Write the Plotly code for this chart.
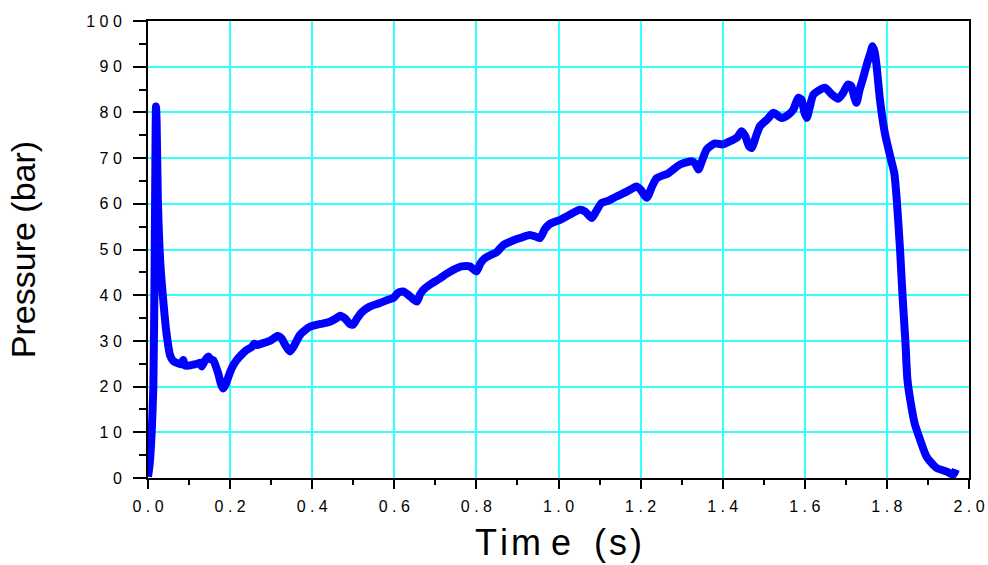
import plotly.graph_objects as go

# Pressure trace: time in seconds, pressure in bar
time_s = [
    0.000, 0.004, 0.009, 0.013, 0.016, 0.0185, 0.0195, 0.021, 0.024, 0.030,
    0.037, 0.045, 0.054, 0.062, 0.070, 0.080, 0.086, 0.090, 0.100, 0.110,
    0.120, 0.127, 0.131, 0.138, 0.147, 0.152, 0.159, 0.165, 0.171, 0.178,
    0.183, 0.189, 0.196, 0.205, 0.216, 0.228, 0.240, 0.252, 0.259, 0.265,
    0.280, 0.297, 0.307, 0.317, 0.325, 0.335, 0.346, 0.355, 0.370, 0.382,
    0.395, 0.420, 0.443, 0.458, 0.468, 0.480, 0.493, 0.500, 0.510, 0.520,
    0.540, 0.565, 0.585, 0.598, 0.610, 0.622, 0.632, 0.645, 0.655, 0.663,
    0.671, 0.690, 0.710, 0.728, 0.745, 0.764, 0.784, 0.800, 0.810, 0.821,
    0.835, 0.849, 0.866, 0.885, 0.906, 0.930, 0.945, 0.955, 0.967, 0.979,
    1.004, 1.025, 1.052, 1.065, 1.081, 1.092, 1.105, 1.120, 1.141, 1.165,
    1.190, 1.200, 1.215, 1.228, 1.239, 1.268, 1.296, 1.325, 1.333, 1.341,
    1.350, 1.361, 1.381, 1.400, 1.418, 1.435, 1.446, 1.455, 1.464, 1.471,
    1.480, 1.491, 1.510, 1.523, 1.544, 1.560, 1.572, 1.584, 1.592, 1.599,
    1.605, 1.613, 1.621, 1.649, 1.665, 1.681, 1.693, 1.705, 1.713, 1.720,
    1.726, 1.733, 1.741, 1.752, 1.760, 1.765, 1.770, 1.775, 1.783, 1.795,
    1.808, 1.818, 1.824, 1.832, 1.838, 1.845, 1.850, 1.858, 1.868, 1.880,
    1.897, 1.921, 1.946, 1.961, 1.965, 1.968,
]
pressure_bar = [
    0.3, 3.0, 10.0, 20.0, 45.0, 75.0, 81.3, 78.0, 61.0, 47.0,
    39.0, 31.7, 26.8, 25.6, 25.2, 24.9, 25.8, 24.6, 24.6, 24.8,
    25.0, 25.2, 24.4, 25.6, 26.6, 26.0, 25.8, 24.5, 22.9, 20.5,
    19.6, 20.4, 22.2, 24.2, 25.8, 27.0, 28.0, 28.6, 29.4, 29.1,
    29.5, 30.0, 30.6, 31.1, 30.6, 29.0, 27.7, 28.8, 31.3, 32.3,
    33.1, 33.7, 34.2, 34.9, 35.5, 34.9, 33.6, 33.6, 35.0, 36.2,
    37.5, 38.3, 39.0, 39.4, 40.6, 40.8, 40.2, 39.2, 38.6, 40.2,
    41.2, 42.5, 43.6, 44.7, 45.6, 46.3, 46.3, 45.2, 47.0, 48.1,
    48.8, 49.4, 51.0, 51.8, 52.5, 53.2, 52.8, 52.5, 54.5, 55.6,
    56.5, 57.5, 58.7, 58.3, 56.9, 58.4, 60.2, 60.6, 61.6, 62.6,
    63.8, 63.1, 61.3, 63.8, 65.6, 66.7, 68.6, 69.3, 68.8, 67.5,
    69.5, 71.9, 73.2, 73.0, 73.7, 74.5, 75.9, 74.8, 72.6, 72.2,
    74.5, 77.0, 78.6, 79.9, 78.8, 79.5, 80.6, 83.2, 82.8, 80.0,
    78.8, 81.5, 83.9, 85.4, 84.0, 83.0, 84.2, 86.1, 85.8, 83.5,
    82.1, 84.8, 87.2, 90.8, 93.0, 94.5, 93.3, 90.1, 82.8, 75.5,
    70.4, 66.7, 60.9, 50.0, 40.0, 30.0, 21.5, 16.5, 11.8, 8.6,
    4.6, 2.2, 1.4, 0.7, 1.2, 1.9,
]

x_ticks = [0.0, 0.2, 0.4, 0.6, 0.8, 1.0, 1.2, 1.4, 1.6, 1.8, 2.0]
y_ticks = [0, 10, 20, 30, 40, 50, 60, 70, 80, 90, 100]


def spaced(s):
    return " ".join(s)


x_labels = [spaced(f"{v:.1f}") for v in x_ticks]
y_labels = [spaced(str(v)) for v in y_ticks]

FONT = "Liberation Sans, Arial, sans-serif"
GRID = "#33ffff"

fig = go.Figure(
    go.Scatter(
        x=time_s,
        y=pressure_bar,
        mode="lines",
        line=dict(color="#0000ff", width=8, shape="spline", smoothing=0.6),
        hoverinfo="skip",
    )
)

fig.update_layout(
    width=988,
    height=565,
    margin=dict(l=148, r=19, t=21, b=87),
    paper_bgcolor="white",
    plot_bgcolor="white",
    showlegend=False,
    font=dict(family=FONT, color="black", size=15),
)

fig.update_xaxes(
    range=[0, 2.0],
    automargin=False,
    tickmode="array",
    tickvals=x_ticks,
    ticktext=x_labels,
    ticks="outside",
    ticklen=9,
    tickwidth=2,
    tickcolor="black",
    minor=dict(dtick=0.1, ticks="outside", ticklen=5, tickwidth=2, tickcolor="black", showgrid=False),
    showline=True,
    linecolor="black",
    linewidth=2,
    mirror=True,
    showgrid=True,
    gridcolor=GRID,
    gridwidth=1.5,
    zeroline=False,
    ticklabelstandoff=4,
    tickfont=dict(size=16),
    title=dict(
        text="T\u200ai\u200am\u00a0e\u00a0\u200a\u00a0(\u200as\u200a)",
        font=dict(size=36, family=FONT),
        standoff=16,
    ),
)

fig.update_yaxes(
    range=[0, 100],
    automargin=False,
    tickmode="array",
    tickvals=y_ticks,
    ticktext=y_labels,
    ticks="outside",
    ticklen=13,
    tickwidth=2,
    tickcolor="black",
    minor=dict(dtick=5, ticks="outside", ticklen=7, tickwidth=2, tickcolor="black", showgrid=False),
    showline=True,
    linecolor="black",
    linewidth=2,
    mirror=True,
    showgrid=True,
    gridcolor=GRID,
    gridwidth=1.5,
    zeroline=False,
    ticklabelstandoff=8,
    tickfont=dict(size=16),
    title=dict(
        text="Pressure (bar)",
        font=dict(size=34, family=FONT),
        standoff=40,
    ),
)

fig.write_html("out.html")
